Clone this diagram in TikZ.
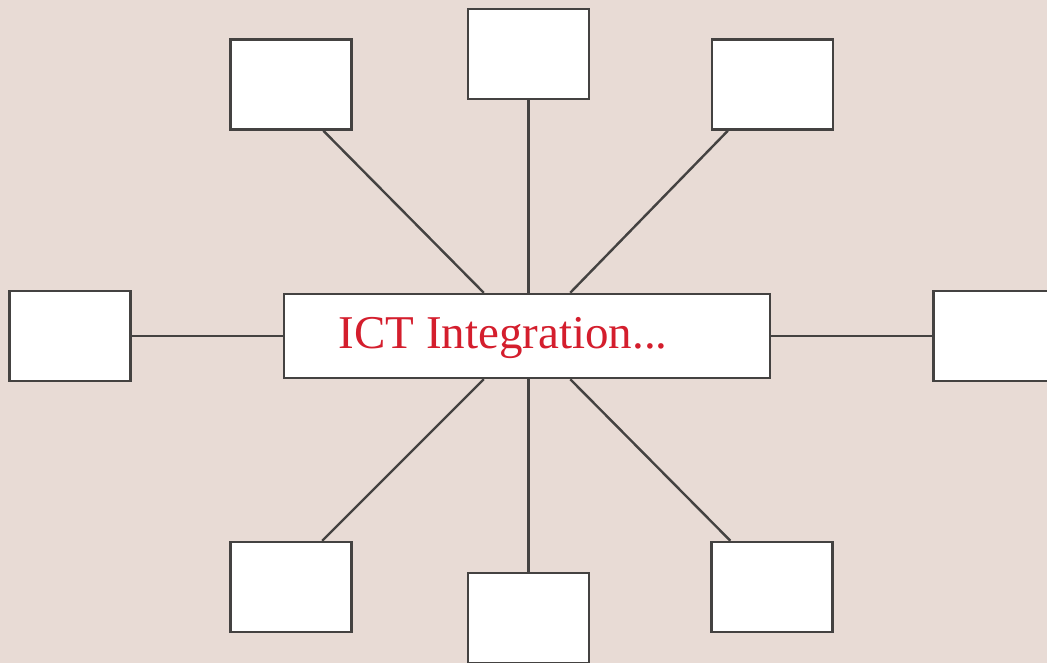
\documentclass[tikz,border=0pt]{standalone}
\usepackage{fontspec}
\setmainfont{Liberation Serif}
\definecolor{bgpink}{RGB}{232,219,213}
\definecolor{edgegray}{RGB}{68,66,65}
\definecolor{ictred}{RGB}{212,30,45}
\tikzset{
  leaf/.style={draw=edgegray,fill=white,line width=2.5pt,minimum width=121pt,minimum height=90pt,inner sep=0pt},
  spoke/.style={draw=edgegray,line width=2.4pt}
}
\begin{document}
\begin{tikzpicture}[x=1pt,y=-1pt]
\useasboundingbox (0,0) rectangle (1047,663);
\fill[bgpink] (0,0) rectangle (1047,663);
% centre
\node[leaf,minimum width=486pt,minimum height=84pt] (hub) at (527,336) {};
\node[anchor=base,text=ictred,font=\fontsize{47}{56}\selectfont,inner sep=0pt] (hubtext) at (503,348) {ICT Integration...};
% boxes round it
\node[leaf] (tl) at (291,84.5) {};
\node[leaf] (tc) at (528.5,54) {};
\node[leaf] (tr) at (772.5,84.5) {};
\node[leaf] (lt) at (70,336) {};
\node[leaf] (rt) at (994,336) {};
\node[leaf] (bl) at (291,587) {};
\node[leaf] (bc) at (528.5,618) {};
\node[leaf] (br) at (772,587) {};
% spokes
\draw[spoke] (tl.-55) -- (hub.135);
\draw[spoke] (tc.south) -- (tc.south |- hub.north);
\draw[spoke] (tr.-134) -- (hub.45);
\draw[spoke] (lt.east) -- (hub.west);
\draw[spoke] (hub.east) -- (rt.west);
\draw[spoke] (bl.56) -- (hub.-135);
\draw[spoke] (bc.north) -- (bc.north |- hub.south);
\draw[spoke] (br.132) -- (hub.-45);
\end{tikzpicture}
\end{document}
